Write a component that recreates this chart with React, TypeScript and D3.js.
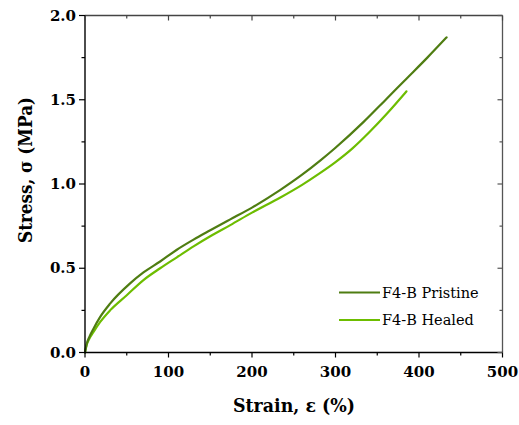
import React from "react";
import * as d3 from "d3";

const pristineStrain = [0, 2, 5, 10, 18, 30, 54, 70, 90, 110, 130, 150, 174, 200, 234, 260, 282, 300, 334, 361, 385, 410, 433];
const pristineStress = [0, 0.05, 0.09, 0.14, 0.21, 0.29, 0.41, 0.475, 0.54, 0.61, 0.67, 0.725, 0.79, 0.86, 0.965, 1.055, 1.14, 1.215, 1.37, 1.505, 1.625, 1.75, 1.87];
const healedStrain = [0, 2, 5, 10, 18, 30, 50, 70, 90, 110, 130, 150, 174, 200, 234, 260, 280, 300, 320, 341, 362, 385];
const healedStress = [0, 0.045, 0.08, 0.12, 0.18, 0.25, 0.34, 0.43, 0.5, 0.565, 0.63, 0.69, 0.756, 0.83, 0.92, 0.995, 1.06, 1.13, 1.21, 1.31, 1.42, 1.55];

const seriesNames = ["F4-B Pristine", "F4-B Healed"];
const seriesColors = ["#4f7d12", "#6dbd00"];
const xTicks = [0, 100, 200, 300, 400, 500];
const yTicks = [0, 0.5, 1.0, 1.5, 2.0];

const W = 519, H = 425;
const left = 85, right = 502.5, top = 15.5, bottom = 352.5;
const font = "DejaVu Serif";

export default function App() {
  const x = d3.scaleLinear().domain([0, 500]).range([left, right]);
  const y = d3.scaleLinear().domain([0, 2]).range([bottom, top]);
  const line = d3
    .line<[number, number]>()
    .x((d) => x(d[0]))
    .y((d) => y(d[1]))
    .curve(d3.curveMonotoneX);
  const data: [number, number][][] = [
    pristineStrain.map((s, i) => [s, pristineStress[i]] as [number, number]),
    healedStrain.map((s, i) => [s, healedStress[i]] as [number, number]),
  ];
  const xMinor = d3.range(50, 500, 100);
  const yMinor = d3.range(0.25, 2, 0.5);

  return (
    <svg width={W} height={H} style={{ position: "absolute", left: 0, top: 0 }} fontFamily={font}>
      <rect width={W} height={H} fill="#fff" />
      {data.slice().reverse().map((d, i) => (
        <path key={i} d={line(d) || ""} fill="none" stroke={seriesColors[1 - i]} strokeWidth={2.2} strokeLinecap="round" />
      ))}
      <line x1={left} x2={right} y1={top} y2={top} stroke="#444" strokeWidth={1.3} />
      <line x1={right} x2={right} y1={top} y2={bottom} stroke="#555" strokeWidth={1.3} />
      <line x1={left} x2={left} y1={top} y2={bottom} stroke="#000" strokeWidth={1.4} />
      <line x1={left} x2={right} y1={bottom} y2={bottom} stroke="#000" strokeWidth={1.4} />
      {xTicks.map((t) => (
        <g key={"x" + t}>
          <line x1={x(t)} x2={x(t)} y1={bottom} y2={bottom + 5} stroke="#000" strokeWidth={1.2} />
          <line x1={x(t)} x2={x(t)} y1={top} y2={top + 5} stroke="#444" strokeWidth={1.2} />
          <text x={x(t)} y={377} textAnchor="middle" fontSize={15} fontWeight="bold">{t}</text>
        </g>
      ))}
      {xMinor.map((t) => (
        <g key={"xm" + t}>
          <line x1={x(t)} x2={x(t)} y1={bottom} y2={bottom + 3} stroke="#000" strokeWidth={1.2} />
          <line x1={x(t)} x2={x(t)} y1={top} y2={top + 3} stroke="#444" strokeWidth={1.2} />
        </g>
      ))}
      {yTicks.map((t) => (
        <g key={"y" + t}>
          <line x1={left - 6} x2={left} y1={y(t)} y2={y(t)} stroke="#000" strokeWidth={1.2} />
          <line x1={right - 5} x2={right} y1={y(t)} y2={y(t)} stroke="#555" strokeWidth={1.2} />
          <text x={76} y={y(t) + 5.2} textAnchor="end" fontSize={15} fontWeight="bold">{t.toFixed(1)}</text>
        </g>
      ))}
      {yMinor.map((t) => (
        <g key={"ym" + t}>
          <line x1={left - 3.5} x2={left} y1={y(t)} y2={y(t)} stroke="#000" strokeWidth={1.2} />
          <line x1={right - 3} x2={right} y1={y(t)} y2={y(t)} stroke="#555" strokeWidth={1.2} />
        </g>
      ))}
      <text x={294} y={411.5} textAnchor="middle" fontSize={18.5} fontWeight="bold" textLength={122} lengthAdjust="spacingAndGlyphs">Strain, ε (%)</text>
      <text transform={`translate(32,170) rotate(-90)`} textAnchor="middle" fontSize={18.5} fontWeight="bold" textLength={146} lengthAdjust="spacingAndGlyphs">Stress, σ (MPa)</text>
      {seriesNames.map((n, i) => (
        <g key={n}>
          <line x1={339} x2={380} y1={292.5 + i * 27.5} y2={292.5 + i * 27.5} stroke={seriesColors[i]} strokeWidth={2.2} />
          <text x={382} y={297.5 + i * 27.5} fontSize={14.5}>{n}</text>
        </g>
      ))}
    </svg>
  );
}
